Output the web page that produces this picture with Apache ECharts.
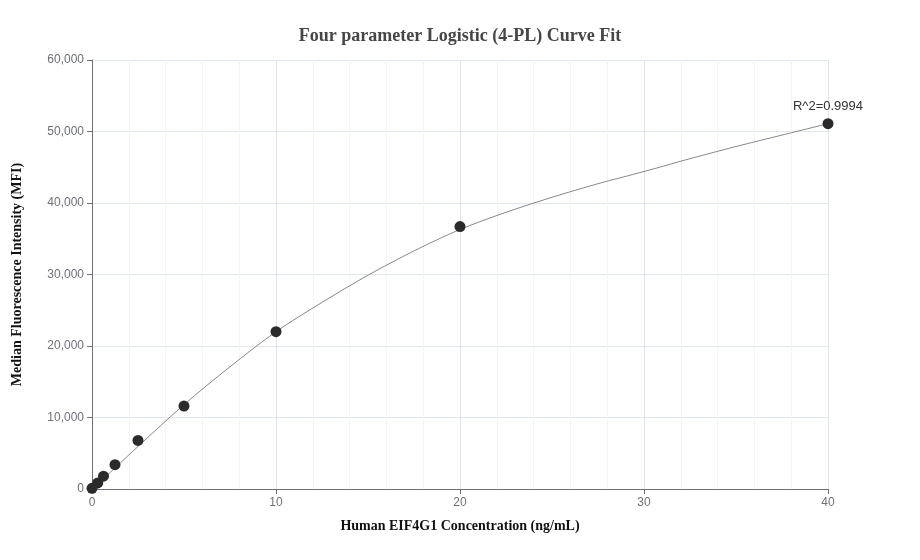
<!DOCTYPE html>
<html style="height: 100%">
<head>
<meta charset="utf-8">
</head>
<body style="width: 100%; height: 100%; margin:0 auto;">
<div id="container" style="width: 920px; height: 560px"></div>
<script type="text/javascript" src="https://cdn.jsdelivr.net/npm/echarts@6/dist/echarts.min.js"></script>
<script type="text/javascript">
	// measured standards (ng/mL, MFI)
	var concentrations = [0, 0.3125, 0.625, 1.25, 2.5, 5, 10, 20, 40];
	var mfiValues = [100, 850, 1800, 3400, 6800, 11600, 22000, 36700, 51100];
	// fitted curve
	var curveX = [0, 0.3125, 0.625, 1.25, 2.5, 5, 7.5, 10, 12.5, 15, 17.5, 20, 22.5, 25, 27.5, 30, 32.5, 35, 37.5, 40];
	var curveY = [0, 700, 1450, 2950, 5950, 11800, 17100, 22000, 26100, 29900, 33300, 36300, 38700, 40800, 42700, 44400, 46200, 47900, 49500, 51100];
	var r2Label = 'R^2=0.9994';

	var dom = document.getElementById("container");
	var myChart = echarts.init(dom);

	var points = concentrations.map(function (c, i) {
		return [c, mfiValues[i]];
	});
	var curve = curveX.map(function (c, i) {
		return [c, curveY[i]];
	});

	var option = {
		animation: false,
		title: {
			text: 'Four parameter Logistic (4-PL) Curve Fit',
			left: 'center',
			top: 22,
			textStyle: {
				fontFamily: 'Liberation Serif',
				fontWeight: 'bold',
				fontSize: 18,
				color: '#464646'
			}
		},
		grid: {
			left: 92,
			right: 92,
			top: 60,
			bottom: 71
		},
		xAxis: {
			type: 'value',
			min: 0,
			max: 40,
			interval: 10,
			name: 'Human EIF4G1 Concentration (ng/mL)',
			nameLocation: 'middle',
			nameGap: 30,
			nameTextStyle: {
				fontFamily: 'Liberation Serif',
				fontWeight: 'bold',
				fontSize: 14,
				color: '#111'
			},
			axisLine: { lineStyle: { color: '#6e7079' } },
			axisTick: { show: true, length: 5 },
			axisLabel: { color: '#6e7079', fontSize: 12 },
			splitLine: { show: true, lineStyle: { color: '#e0e6f1' } },
			minorTick: { show: false, splitNumber: 5 },
			minorSplitLine: { show: true, lineStyle: { color: '#f2f4f9' } }
		},
		yAxis: {
			type: 'value',
			min: 0,
			max: 60000,
			interval: 10000,
			name: 'Median Fluorescence Intensity (MFI)',
			nameLocation: 'middle',
			nameGap: 68,
			nameTextStyle: {
				fontFamily: 'Liberation Serif',
				fontWeight: 'bold',
				fontSize: 14,
				color: '#111'
			},
			axisLine: { show: true, lineStyle: { color: '#6e7079' } },
			axisTick: { show: true, length: 5 },
			axisLabel: {
				color: '#6e7079',
				fontSize: 12,
				formatter: function (v) {
					return v.toLocaleString('en-US');
				}
			},
			splitLine: { show: true, lineStyle: { color: '#e0e6f1' } }
		},
		series: [
			{
				name: 'fit',
				type: 'line',
				data: curve,
				smooth: 0.3,
				showSymbol: false,
				lineStyle: { color: '#888', width: 1 },
				z: 2
			},
			{
				name: 'standards',
				type: 'scatter',
				data: points,
				symbolSize: 11,
				itemStyle: { color: '#2b2b2b', opacity: 1 },
				label: {
					show: true,
					position: 'top',
					distance: 5,
					color: '#333',
					fontSize: 13,
					formatter: function (p) {
						return p.dataIndex === points.length - 1 ? r2Label : '';
					}
				},
				z: 3
			}
		]
	};
	myChart.setOption(option);
</script>
</body>
</html>
